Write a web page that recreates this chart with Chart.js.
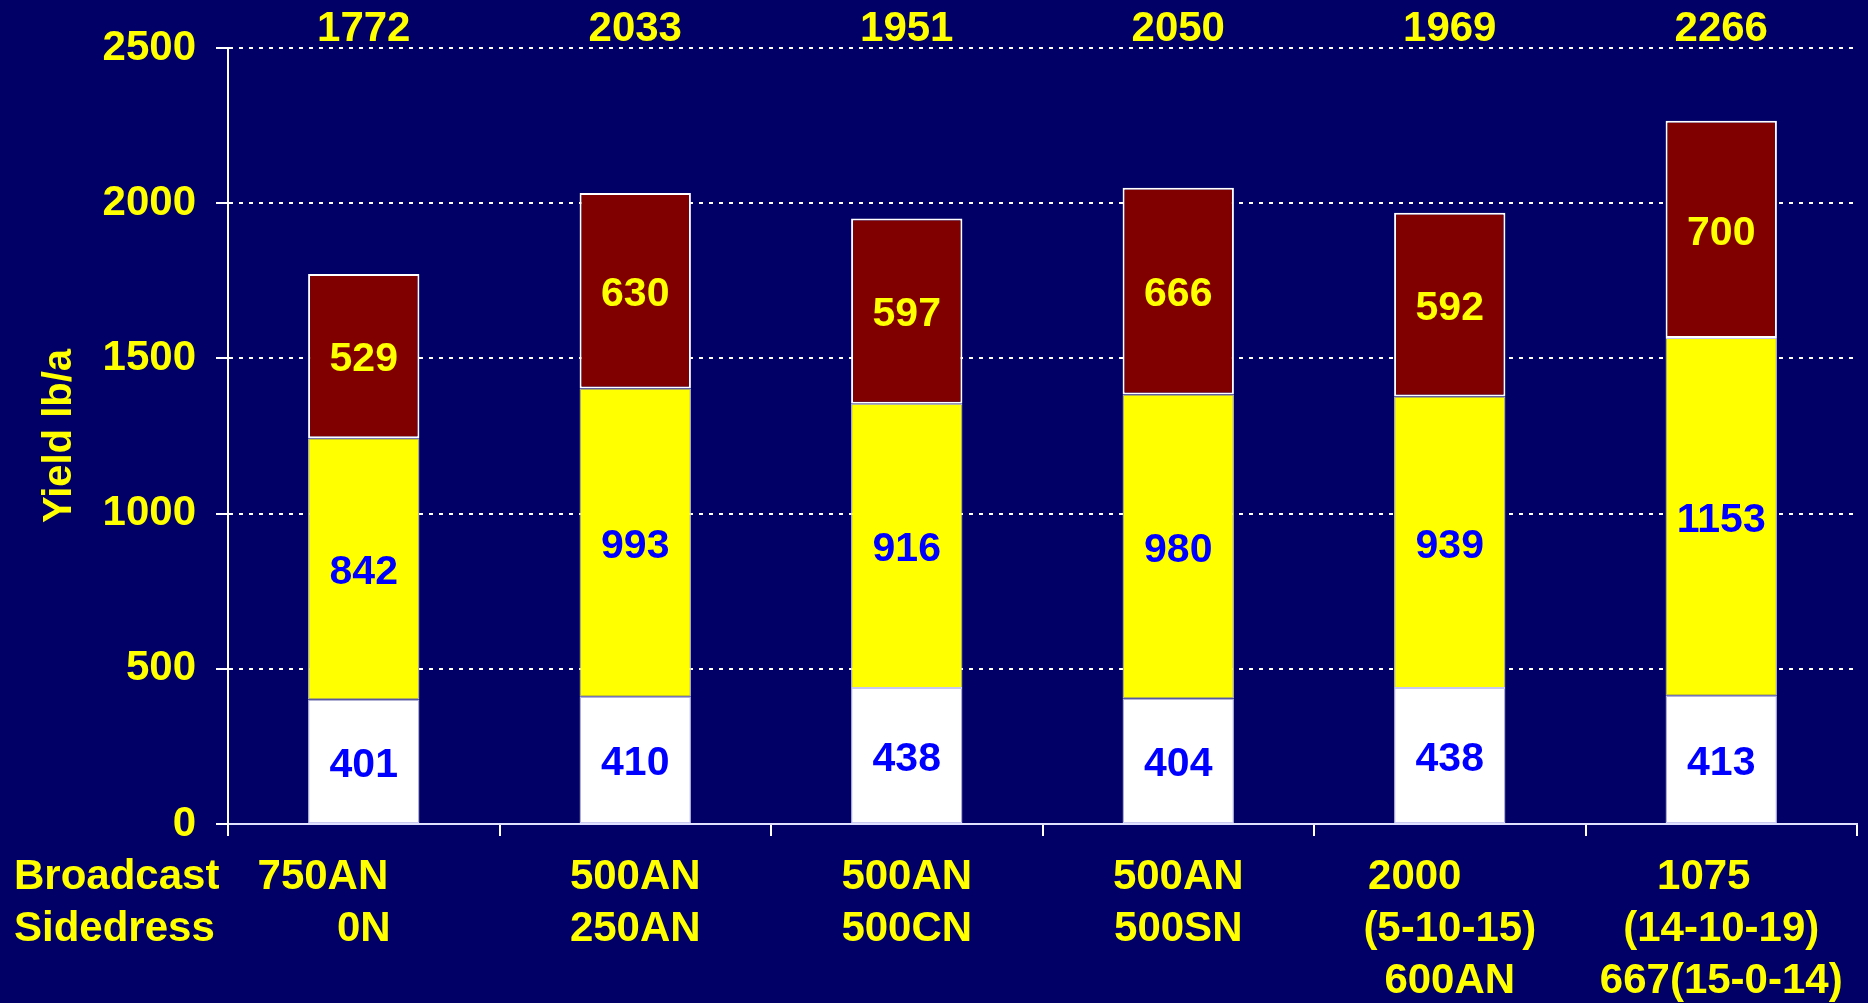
<!DOCTYPE html>
<html>
<head>
<meta charset="utf-8">
<script src="https://cdn.jsdelivr.net/npm/chart.js@4.4.1/dist/chart.umd.min.js"></script>
<style>
    html, body { margin: 0; padding: 0; background: #000066; }
    #wrap { width: 1868px; height: 1003px; position: relative; }
</style>
</head>
<body>
<div id="wrap"><canvas id="grafica"></canvas></div>
<script>
// datos
const categorias = [
    ['750AN       ', '0N'],
    ['500AN', '250AN'],
    ['500AN', '500CN'],
    ['500AN', '500SN'],
    ['2000      ', '(5-10-15)', '600AN'],
    ['1075   ', '(14-10-19)', '667(15-0-14)']
];
const filas = ['Broadcast', 'Sidedress'];
const rendBase = [401, 410, 438, 404, 438, 413];
const rendMedio = [842, 993, 916, 980, 939, 1153];
const rendSuperior = [529, 630, 597, 666, 592, 700];
const ticksY = [0, 500, 1000, 1500, 2000, 2500];
const tituloY = 'Yield lb/a';

(function() {

    const grafica = document.querySelector('#grafica');
    const fuente = '"Liberation Sans", Arial, sans-serif';
    const amarillo = '#ffff00';
    const azul = '#0000ff';

    const TICK_LEN = 12;
    const X_PAD = 15;
    const LINEA = 52;

    // valores dentro de cada segmento
    const etiquetas = {
        id: 'etiquetas',
        afterDatasetsDraw(chart) {
            const {ctx, chartArea} = chart;
            ctx.save();
            ctx.font = 'bold 41px ' + fuente;
            ctx.textAlign = 'center';
            ctx.textBaseline = 'middle';
            chart.data.datasets.forEach((ds, i) => {
                const meta = chart.getDatasetMeta(i);
                ctx.fillStyle = ds.labelColor;
                meta.data.forEach((bar, j) => {
                    const c = bar.getCenterPoint();
                    ctx.fillText(ds.data[j], c.x, c.y + 4);
                });
            });
            // totales arriba
            const meta = chart.getDatasetMeta(chart.data.datasets.length - 1);
            ctx.fillStyle = amarillo;
            ctx.font = 'bold 42px ' + fuente;
            meta.data.forEach((bar, j) => {
                const total = rendBase[j] + rendMedio[j] + rendSuperior[j];
                ctx.fillText(total, bar.x, chartArea.top - 19);
            });
            // nombres de filas
            const xs = chart.scales.x;
            ctx.textAlign = 'left';
            filas.forEach((f, k) => {
                ctx.fillText(f, 14, xs.top + TICK_LEN + X_PAD + LINEA * (k + 0.5));
            });
            ctx.restore();
        }
    };

    new Chart(grafica, {
        type: 'bar',
        data: {
            labels: categorias,
            datasets: [
                {
                    data: rendBase,
                    backgroundColor: '#ffffff',
                    borderColor: '#c8c8f0',
                    borderWidth: 1,
                    borderSkipped: false,
                    labelColor: azul
                },
                {
                    data: rendMedio,
                    backgroundColor: '#ffff00',
                    borderColor: '#c8c8f0',
                    borderWidth: 1,
                    borderSkipped: false,
                    labelColor: azul
                },
                {
                    data: rendSuperior,
                    backgroundColor: '#800000',
                    borderColor: '#ffffff',
                    borderWidth: 2,
                    borderSkipped: false,
                    labelColor: amarillo
                }
            ]
        },
        options: {
            responsive: true,
            maintainAspectRatio: false,
            animation: false,
            barPercentage: 0.41,
            categoryPercentage: 1,
            layout: {
                padding: { top: 48, right: 11, left: 0, bottom: 0 }
            },
            scales: {
                x: {
                    stacked: true,
                    afterFit(scale) { scale.height = 179; },
                    grid: {
                        display: true,
                        offset: true,
                        drawOnChartArea: false,
                        drawTicks: true,
                        tickLength: TICK_LEN,
                        color: '#ffffff',
                        lineWidth: 2
                    },
                    border: { color: '#e0e0ff', width: 2 },
                    ticks: {
                        color: amarillo,
                        padding: X_PAD,
                        maxRotation: 0,
                        autoSkip: false,
                        font: { family: fuente, size: 42, weight: 'bold', lineHeight: LINEA / 42 }
                    }
                },
                y: {
                    stacked: true,
                    min: 0,
                    max: 2500,
                    afterFit(scale) { scale.width = 228; },
                    afterBuildTicks(scale) {
                        scale.ticks = ticksY.map(v => ({ value: v }));
                    },
                    grid: {
                        color: '#ffffff',
                        lineWidth: 2,
                        drawTicks: true,
                        tickLength: TICK_LEN,
                        tickBorderDash: []
                    },
                    border: { color: '#ffffff', width: 2, dash: [4, 6] },
                    ticks: {
                        color: amarillo,
                        padding: 20,
                        callback: v => String(v),
                        font: { family: fuente, size: 42, weight: 'bold' }
                    },
                    title: {
                        display: true,
                        text: tituloY,
                        color: amarillo,
                        padding: { top: 36, bottom: 0 },
                        font: { family: fuente, size: 40, weight: 'bold', lineHeight: 1.2 }
                    }
                }
            },
            plugins: {
                legend: { display: false },
                tooltip: { enabled: false }
            }
        },
        plugins: [etiquetas]
    });

})();
</script>
</body>
</html>
